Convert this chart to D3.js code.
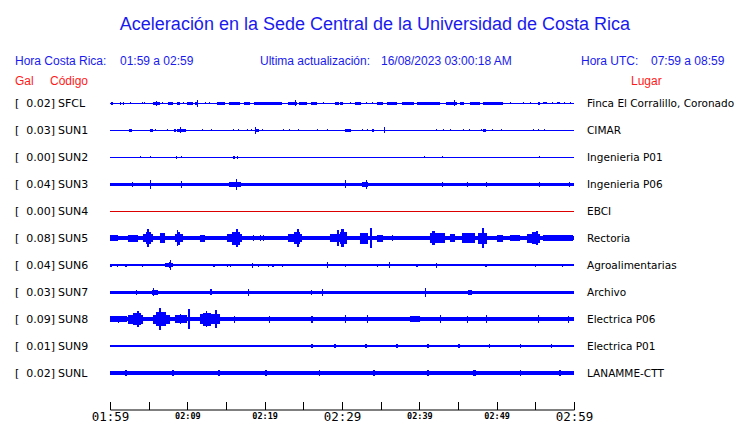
<!DOCTYPE html>
<html>
<head>
<meta charset="utf-8">
<script src="https://cdn.jsdelivr.net/npm/d3@7"></script>
<style>
  html, body { margin: 0; padding: 0; background: #fff; }
  svg { display: block; }
</style>
</head>
<body>
<script>
// ---------------- DATA ----------------
const titleText = "Aceleración en la Sede Central de la Universidad de Costa Rica";
const localRange = "01:59 a 02:59";
const utcRange = "07:59 a 08:59";
const updateStamp = "16/08/2023 03:00:18 AM";

const stationCodes = ["SFCL","SUN1","SUN2","SUN3","SUN4","SUN5","SUN6","SUN7","SUN8","SUN9","SUNL"];
const galValues   = [0.02, 0.03, 0.00, 0.04, 0.00, 0.08, 0.04, 0.03, 0.09, 0.01, 0.02];
const places = ["Finca El Corralillo, Coronado","CIMAR","Ingenieria P01","Ingenieria P06","EBCI",
                "Rectoria","Agroalimentarias","Archivo","Electrica P06","Electrica P01","LANAMME-CTT"];
const offlineStations = ["SUN4"];

// time axis: minutes after 01:59
const tickMinutes = [0,5,10,15,20,25,30,35,40,45,50,55,60];
const tickLabels  = ["01:59","","02:09","","02:19","","02:29","","02:39","","02:49","","02:59"];
const majorLabels = ["01:59","02:29","02:59"];

// background (noise) half-amplitude per station, relative units
const baseAmp = [0.5, 0.5, 0.5, 1.5, 0.5, 2.0, 0.6, 1.5, 2.1, 1.1, 2.2];

// events per station: [start minute, end minute, half-amplitude]
const sfclEvents = [[0.1,0.4,1.5],[1.3,1.4,1.5],[1.7,1.8,1.5],[2.6,2.7,1.2],[4.1,4.2,1],[4.4,4.5,1],[5.6,6.5,1.5],[6.0,6.1,2.5],[6.7,6.8,1.2],[7.5,8.1,1.5],[8.7,9.1,1.5],[9.4,9.5,1.2],[10.0,10.7,1.5],[11.0,11.4,1.5],[11.2,11.3,3.5],[12.3,12.4,1],[12.8,12.9,1],[13.8,14.9,1.5],[15.4,16.8,1.5],[17.3,18.1,1.5],[18.6,22.2,1.5],[23.0,24.2,1.5],[23.9,24.0,3],[24.4,25.5,1.5],[26.0,26.8,1.5],[27.5,27.6,1],[29.1,29.6,1.5],[29.7,30.1,1.5],[31.0,31.1,1.2],[31.7,32.5,1.5],[33.1,33.2,1.2],[33.9,34.0,1],[34.5,35.3,1.5],[35.8,37.1,1.5],[37.8,39.3,1.5],[39.7,42.7,1.5],[43.4,44.9,1.5],[44.5,44.6,3],[45.3,45.8,1.5],[46.6,47.8,1.5],[48.2,50.8,1.5],[51.7,51.8,1],[53.4,53.5,1],[54.3,54.4,1.2],[55.3,55.6,1.5],[56.0,56.5,1.2],[57.2,57.3,1],[57.8,58.2,1.2],[58.7,58.8,1],[59.5,59.6,1]];
const sun1Events = [[2.5,2.8,1.5],[5.2,5.6,1.5],[5.8,5.9,1.2],[7.4,7.5,1],[8.3,8.5,1.5],[8.7,9.8,1.5],[9.0,9.2,3],[11.9,12.0,1],[13.1,13.2,1],[15.9,16.0,1],[16.6,16.7,1],[17.7,17.8,1.2],[18.2,18.3,1.2],[18.8,18.9,3.5],[18.9,19.3,1.5],[19.7,19.8,1.2],[22.4,22.5,1],[23.1,23.2,1],[24.3,24.4,1],[26.8,26.9,1.2],[28.1,28.2,1.2],[30.4,31.2,1.5],[32.6,32.7,1.2],[33.2,33.3,1.2],[33.9,34.1,1.5],[35.4,35.5,3],[42.2,42.3,1.2],[43.1,43.2,1.2],[44.0,44.1,1.2],[45.6,45.7,1],[46.4,46.5,1],[48.0,48.1,1.2],[48.2,48.6,1.5],[49.4,49.5,1.2],[50.6,50.7,1.2],[54.7,54.8,1],[55.3,55.4,1],[56.1,56.2,1]];
const sun2Events = [[3.9,4.0,1],[5.2,5.3,1],[8.5,8.7,1.5],[9.2,9.3,1.2],[15.9,16.2,1.5],[16.4,16.5,1.5],[40.6,40.7,1],[42.9,43.0,1],[55.5,55.6,1]];
const sun3Events = [[2.8,3.0,2.5],[5.2,5.3,4.5],[9.2,9.3,3.5],[15.4,16.9,2.5],[16.3,16.4,5.5],[30.4,30.5,4],[32.6,33.3,2.5],[33.1,33.2,4.5],[42.9,43.0,2.5],[46.2,46.3,2.5],[48.6,48.7,2.5],[55.5,55.6,2.5],[59.3,59.4,2.5]];
const sun4Events = [];
const sun5Events = [[0,1.0,3],[2.3,3.6,3.5],[4.3,5.6,4],[4.6,5.3,6],[4.8,5.0,9],[6.5,7.1,5],[8.4,9.4,4],[8.6,9.0,6.5],[8.7,8.8,8],[11.6,12.3,3.5],[15.1,17.1,4],[15.8,16.8,6.5],[16.3,16.5,9],[18.5,18.6,3],[19.4,19.5,3],[19.8,19.9,3],[23.0,24.8,4],[23.8,24.6,6],[24.2,24.4,9],[28.4,29.7,4],[29.4,29.6,8],[29.7,30.6,6],[29.9,30.3,9],[32.3,33.4,5.5],[33.6,33.9,10],[34.5,35.3,3.5],[36.5,36.6,3],[41.4,43.3,5],[41.7,42.0,7],[44.0,44.6,4],[45.5,47.2,5],[47.6,48.8,5.5],[48.1,48.3,10],[50.0,50.8,3.5],[51.7,53.0,3],[53.9,55.6,4.5],[54.6,55.4,6],[55.1,55.3,7],[56.0,59.9,3]];
const sun6Events = [[0,0.3,1.5],[0.9,1.0,1.5],[1.9,2.2,1.5],[2.8,2.9,1.2],[4.1,4.3,1.5],[5.3,5.4,1.2],[6.3,6.4,1],[7.1,8.1,1.8],[7.6,7.9,3],[7.75,7.85,5],[9.3,9.4,1.2],[10.0,10.1,1.2],[10.6,10.7,1],[13.3,13.6,1.5],[15.1,15.2,1.5],[15.5,15.6,1.5],[16.4,16.5,1.2],[17.1,17.2,1.2],[18.4,18.5,2.5],[19.1,19.2,1.5],[20.4,20.5,1.5],[20.9,21.2,1.5],[22.2,22.3,1.5],[28.1,28.2,3],[30.4,30.5,1.5],[32.6,32.7,1.2],[33.0,33.1,1.2],[34.5,34.7,1.5],[35.4,35.5,1],[36.1,36.2,3],[38.8,38.9,1.2],[39.6,39.8,1.5],[42.2,42.3,2.5],[42.9,43.0,1.2],[44.2,44.3,1],[48.5,48.8,1.5],[55.0,55.1,1.5],[58.5,58.6,1.5]];
const sun7Events = [[3.4,3.5,2.5],[5.4,6.2,2.5],[5.6,5.7,4],[12.9,13.2,3],[17.8,17.9,3.5],[26.0,26.1,2.5],[27.4,27.5,3.5],[40.7,40.8,4.5],[46.3,46.8,2.5]];
const sun8Events = [[0,2.2,3],[1.0,1.2,3.5],[2.3,4.3,4.5],[3.0,4.0,6],[3.5,3.7,8],[5.6,7.8,4.5],[6.0,7.2,7],[6.4,6.6,11],[8.4,10.0,4],[9.0,9.2,5],[10.1,10.3,10],[11.6,14.2,5],[12.0,13.0,6.5],[12.4,12.6,8],[13.6,13.9,9],[16.0,16.2,3.5],[20.5,20.7,3.5],[26.0,26.2,3.5],[30.4,30.5,4],[33.2,33.3,4],[38.8,40.1,3],[42.7,42.8,4],[46.2,46.3,3.5],[48.6,48.7,4],[55.3,55.4,4],[59.2,59.3,3.5]];
const sun9Events = [[26,26.2,1.7],[29,29.2,1.7],[33,33.2,1.7],[37,37.2,1.7],[41,41.2,1.7],[45,45.2,1.7],[49,49.2,1.7],[53,53.2,1.7],[57,57.2,1.7]];
const sunlEvents = [[2,2.2,3],[8,8.3,3],[14,14.2,3],[20,20.3,3],[27,27.2,3],[34,34.3,3],[41,41.2,3],[47,47.3,3],[53,53.2,3],[58,58.3,3]];

const stationEvents = [sfclEvents, sun1Events, sun2Events, sun3Events, sun4Events, sun5Events,
                       sun6Events, sun7Events, sun8Events, sun9Events, sunlEvents];

// ---------------- DRAW ----------------
const W = 740, H = 423;
const svg = d3.select("body").append("svg").attr("width", W).attr("height", H);

const blue = "#1a1aee", traceBlue = "#0000ff", red = "#ff1a1a";
const sansHead = "'Liberation Sans', Arial, sans-serif";
const sansLab = "'DejaVu Sans', sans-serif";

svg.append("text").attr("x", 375).attr("y", 29.5).attr("text-anchor", "middle")
  .attr("font-family", sansHead).attr("font-size", 18).attr("fill", blue).text(titleText);

const hdr = [
  {x: 15, t: "Hora Costa Rica:"}, {x: 120, t: localRange},
  {x: 260, t: "Ultima actualización:"}, {x: 381, t: updateStamp},
  {x: 581, t: "Hora UTC:"}, {x: 651, t: utcRange}
];
svg.selectAll("text.hdr").data(hdr).enter().append("text").attr("class", "hdr")
  .attr("x", d => d.x).attr("y", 65).attr("font-family", sansHead).attr("font-size", 12)
  .attr("fill", blue).text(d => d.t);

[{x: 15, t: "Gal"}, {x: 50, t: "Código"}, {x: 631, t: "Lugar"}].forEach(d => {
  svg.append("text").attr("x", d.x).attr("y", 85).attr("font-family", sansHead)
    .attr("font-size", 12).attr("fill", red).text(d.t);
});

const x = d3.scaleLinear().domain([0, 60]).range([110, 574]);
const row = d3.scalePoint().domain(stationCodes).range([103, 373]);
const amp = d3.scaleLinear().domain([0, 1]).range([0, 1]);

const rows = svg.selectAll("g.row").data(stationCodes).enter().append("g").attr("class", "row");

rows.append("text").attr("x", 15).attr("y", d => row(d) + 4)
  .attr("font-family", sansLab).attr("font-size", 11).attr("fill", "#000").text("[");
rows.append("text").attr("x", 55).attr("text-anchor", "end").attr("y", d => row(d) + 4)
  .attr("font-family", sansLab).attr("font-size", 11).attr("fill", "#000")
  .text((d, i) => galValues[i].toFixed(2) + "]");
rows.append("text").attr("x", 58).attr("y", d => row(d) + 4)
  .attr("font-family", sansLab).attr("font-size", 11).attr("fill", "#000").text(d => d);
rows.append("text").attr("x", 587).attr("y", d => row(d) + 4)
  .attr("font-family", sansLab).attr("font-size", 10.5).attr("fill", "#000")
  .text((d, i) => places[i]);

stationCodes.forEach((code, i) => {
  const cy = row(code);
  const col = offlineStations.includes(code) ? "#dd0000" : traceBlue;
  const g = svg.append("g").attr("shape-rendering", "crispEdges").attr("fill", col);
  const a0 = Math.max(0.5, amp(baseAmp[i]));
  g.append("rect").attr("x", x(0)).attr("width", x(60) - x(0))
    .attr("y", cy - a0).attr("height", 2 * a0);
  g.selectAll("rect.ev").data(stationEvents[i]).enter().append("rect").attr("class", "ev")
    .attr("x", d => x(d[0]))
    .attr("width", d => Math.max(1, x(d[1]) - x(d[0])))
    .attr("y", d => cy - amp(d[2]))
    .attr("height", d => 2 * amp(d[2]));
});

// time axis
const axis = d3.axisBottom(x).tickValues(tickMinutes)
  .tickSizeInner(-8).tickSizeOuter(0).tickPadding(3)
  .tickFormat((d, i) => tickLabels[i]);
const ag = svg.append("g").attr("transform", "translate(0,409.5)").call(axis);
ag.select(".domain").attr("stroke", "#000");
ag.selectAll(".tick line").attr("stroke", "#000").attr("shape-rendering", "crispEdges");
ag.selectAll(".tick text")
  .attr("fill", "#000")
  .attr("font-family", "'DejaVu Sans Mono', monospace")
  .attr("font-size", (d, i) => majorLabels.includes(tickLabels[i]) ? 12.5 : 8.5)
  .attr("font-weight", (d, i) => majorLabels.includes(tickLabels[i]) ? "normal" : "bold");
</script>
</body>
</html>
